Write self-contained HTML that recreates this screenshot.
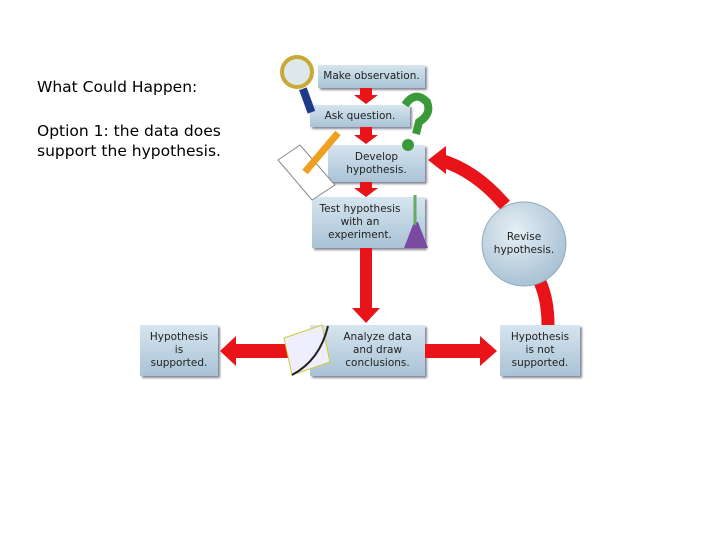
<!DOCTYPE html>
<html><head><style>
body{margin:0;width:720px;height:540px;background:#fff;position:relative;overflow:hidden;font-family:"DejaVu Sans","Liberation Sans",sans-serif}
.t{position:absolute;left:37px;font-family:"Comic Sans MS","DejaVu Sans",sans-serif;font-size:15.5px;color:#000;line-height:20px}
.b{position:absolute;background:linear-gradient(#d6e5ef,#a9c3d6);box-shadow:2px 2px 2px #889;text-align:center;font-size:10.5px;color:#222;display:flex;align-items:center;justify-content:center;line-height:13px}
</style></head><body>
<div class="t" style="top:77px">What Could Happen:</div>
<div class="t" style="top:121px">Option 1: the data does<br>support the hypothesis.</div>
<div class="b" style="left:318px;top:65px;width:107px;height:23px">Make observation.</div>
<div class="b" style="left:310px;top:105px;width:100px;height:22px">Ask question.</div>
<div class="b" style="left:328px;top:145px;width:97px;height:37px">Develop<br>hypothesis.</div>
<div class="b" style="left:312px;top:197px;width:113px;height:51px;justify-content:flex-start;padding-left:4px;box-sizing:border-box"><span style="width:88px">Test hypothesis<br>with an<br>experiment.</span></div>
<div class="b" style="left:310px;top:325px;width:115px;height:51px;padding-left:20px;box-sizing:border-box">Analyze data<br>and draw<br>conclusions.</div>
<div class="b" style="left:500px;top:325px;width:80px;height:51px">Hypothesis<br>is not<br>supported.</div>
<div class="b" style="left:140px;top:325px;width:78px;height:51px">Hypothesis<br>is<br>supported.</div>
<svg width="720" height="540" style="position:absolute;left:0;top:0">
<defs><radialGradient id="g" cx="40%" cy="35%" r="70%"><stop offset="0" stop-color="#e6eff5"/><stop offset="1" stop-color="#a5bfd2"/></radialGradient></defs>
<g fill="#e8141a">
<polygon points="360,88 372,88 372,95 378,95 366,104 354,95 360,95"/>
<polygon points="360,127 372,127 372,135 378,135 366,144 354,135 360,135"/>
<polygon points="360,182 372,182 372,188 378,188 366,197 354,188 360,188"/>
<polygon points="360,248 372,248 372,308 380,308 366,323 352,308 360,308"/>
<polygon points="425,344 480,344 480,336 497,351 480,366 480,358 425,358"/>
<polygon points="290,344 236,344 236,336 220,351 236,366 236,358 290,358"/>
</g>
<path d="M548,325 Q548,300 540,282" stroke="#e8141a" stroke-width="13" fill="none"/>
<path d="M505,205 Q475,170 440,160" stroke="#e8141a" stroke-width="13" fill="none"/>
<polygon points="428,160 446,146 446,174" fill="#e8141a"/>
<circle cx="524" cy="244" r="42" fill="url(#g)" stroke="#8fa9bd"/>
<text x="524" y="240" font-size="10.5" text-anchor="middle" fill="#222" font-family="DejaVu Sans">Revise</text>
<text x="524" y="253" font-size="10.5" text-anchor="middle" fill="#222" font-family="DejaVu Sans">hypothesis.</text>
<circle cx="297" cy="72" r="15" fill="#dde8ea" stroke="#c9a833" stroke-width="4"/>
<rect x="303" y="88" width="8" height="25" fill="#1e3b8a" transform="rotate(-20 307 100)"/>
<path d="M405,105 q10,-15 22,-3 q5,12 -8,20 l-3,12" stroke="#3a9a3a" stroke-width="8" fill="none"/>
<circle cx="408" cy="145" r="6" fill="#3a9a3a"/>
<polygon points="278,160 300,145 335,185 312,200" fill="#fff" stroke="#888"/>
<line x1="305" y1="172" x2="338" y2="133" stroke="#f0a020" stroke-width="7"/>
<polygon points="404,248 428,248 418,222 414,222" fill="#7a4aa0"/>
<line x1="415" y1="195" x2="415" y2="225" stroke="#6a6" stroke-width="3"/>
<polygon points="284,338 322,325 330,362 292,375" fill="#eef" stroke="#cc3"/>
<path d="M292,375 Q320,360 328,326" stroke="#222" stroke-width="2" fill="none"/>
</svg>
</body></html>
